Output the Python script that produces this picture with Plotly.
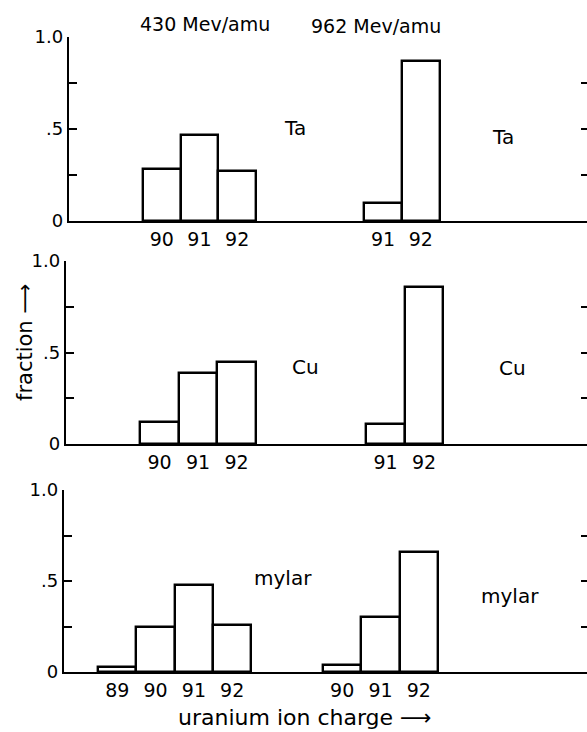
import plotly.graph_objects as go

# ---------------- data ----------------
energies = ["430 Mev/amu", "962 Mev/amu"]
targets = ["Ta", "Cu", "mylar"]

ta_430_charge = [90, 91, 92]
ta_430_frac = [0.28, 0.47, 0.27]
ta_962_charge = [91, 92]
ta_962_frac = [0.10, 0.87]

cu_430_charge = [90, 91, 92]
cu_430_frac = [0.12, 0.39, 0.45]
cu_962_charge = [91, 92]
cu_962_frac = [0.11, 0.86]

mylar_430_charge = [89, 90, 91, 92]
mylar_430_frac = [0.03, 0.25, 0.48, 0.26]
mylar_962_charge = [90, 91, 92]
mylar_962_frac = [0.04, 0.30, 0.66]

y_tickvals = [0, 0.25, 0.5, 0.75, 1.0]
y_ticktext = ["0", "", ".5", "", "1.0"]

# ---------------- layout constants ----------------
W, H = 587, 732
OFFSET = 4.87  # shift of the 962 MeV histogram along the shared axis
FONT = "DejaVu Sans"

rows = [
    dict(c430=ta_430_charge, f430=ta_430_frac, c962=ta_962_charge, f962=ta_962_frac,
         y0=221, y1=37, x0=69, xr=[87.54, 101.28]),
    dict(c430=cu_430_charge, f430=cu_430_frac, c962=cu_962_charge, f962=cu_962_frac,
         y0=444, y1=261, x0=66, xr=[87.57, 101.10]),
    dict(c430=mylar_430_charge, f430=mylar_430_frac, c962=mylar_962_charge, f962=mylar_962_frac,
         y0=672, y1=490, x0=64, xr=[87.61, 101.26]),
]

fig = go.Figure()
bar_style = dict(marker=dict(color="white", line=dict(color="black", width=2.4)),
                 width=1, showlegend=False, hoverinfo="skip")

layout = dict(width=W, height=H, margin=dict(l=0, r=0, t=0, b=0),
              paper_bgcolor="white", plot_bgcolor="white",
              font=dict(family=FONT, color="black"), bargap=0, barmode="overlay",
              showlegend=False)

label_px = [(295, 128, 503, 137), (305, 367, 512, 368), (283, 578, 510, 596)]

for i, r in enumerate(rows):
    n = i + 1
    xa = "x" if n == 1 else f"x{n}"
    ya = "y" if n == 1 else f"y{n}"
    yr = f"y{n + 3}"
    fig.add_trace(go.Bar(x=r["c430"], y=r["f430"], xaxis=xa, yaxis=ya, **bar_style))
    fig.add_trace(go.Bar(x=[c + OFFSET for c in r["c962"]], y=r["f962"], xaxis=xa, yaxis=ya, **bar_style))
    # empty trace so the right-hand tick axis is drawn
    fig.add_trace(go.Scatter(x=[None], y=[None], xaxis=xa, yaxis=yr, showlegend=False, hoverinfo="skip"))

    tickvals = list(r["c430"]) + [c + OFFSET for c in r["c962"]]
    ticktext = [str(c) for c in r["c430"]] + [str(c) for c in r["c962"]]

    ydom = [1 - r["y0"] / H, 1 - r["y1"] / H]
    layout["xaxis" if n == 1 else f"xaxis{n}"] = dict(
        domain=[r["x0"] / W, 1.0], range=r["xr"], anchor=ya,
        showline=True, linewidth=2.4, linecolor="black", showgrid=False, zeroline=False,
        ticks="", tickvals=tickvals, ticktext=ticktext,
        tickfont=dict(size=19, family=FONT), automargin=False, fixedrange=True)
    layout["yaxis" if n == 1 else f"yaxis{n}"] = dict(
        domain=ydom, range=[0, 1.0], anchor=xa,
        showline=True, linewidth=2.4, linecolor="black", showgrid=False, zeroline=False,
        ticks="inside", ticklen=8, tickwidth=2, tickcolor="black",
        tickvals=y_tickvals, ticktext=y_ticktext,
        tickfont=dict(size=18, family=FONT), automargin=False, fixedrange=True)
    layout[f"yaxis{n + 3}"] = dict(
        overlaying=ya, side="right", anchor=xa, range=[0, 1.0],
        showline=False, showgrid=False, zeroline=False,
        ticks="inside", ticklen=6, tickwidth=2, tickcolor="black",
        tickvals=[0.25, 0.5, 0.75, 1.0], showticklabels=False, fixedrange=True)

annotations = []
for (lx, ly, rx, ry), t in zip(label_px, targets):
    for xx, yy in ((lx, ly), (rx, ry)):
        annotations.append(dict(text=t, x=xx / W, y=1 - yy / H, xref="paper", yref="paper",
                                showarrow=False, xanchor="center", yanchor="middle",
                                font=dict(size=20, family=FONT)))

annotations.append(dict(text=energies[0], x=205 / W, y=1 - 24 / H, xref="paper", yref="paper",
                        showarrow=False, yanchor="middle", font=dict(size=19, family=FONT)))
annotations.append(dict(text=energies[1], x=443 / W, y=1 - 26 / H, xref="paper", yref="paper",
                        showarrow=False, yanchor="middle", font=dict(size=19, family=FONT)))
annotations.append(dict(text="fraction \u27F6", x=25 / W, y=1 - 343 / H, xref="paper", yref="paper",
                        showarrow=False, textangle=-90, xanchor="center", yanchor="middle",
                        font=dict(size=21, family=FONT)))
annotations.append(dict(text="uranium ion charge \u27F6", x=305 / W, y=1 - 717 / H,
                        xref="paper", yref="paper", showarrow=False, yanchor="middle",
                        font=dict(size=22, family=FONT)))
layout["annotations"] = annotations

fig.update_layout(**layout)
fig.write_html("out.html", config={"displayModeBar": False},
               post_script="document.body.style.margin='0px';document.body.style.padding='0px';")
